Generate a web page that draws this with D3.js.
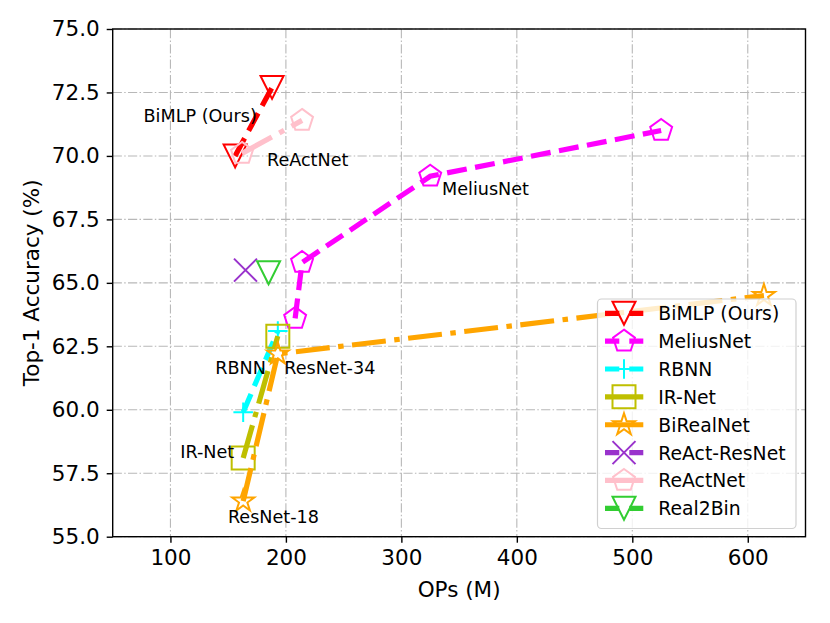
<!DOCTYPE html>
<html><head><meta charset="utf-8">
<script src="https://cdn.jsdelivr.net/npm/d3@7"></script>
<style>
html,body{margin:0;padding:0;background:#fff;}
svg{display:block;font-family:"DejaVu Sans",sans-serif;}
</style></head>
<body><svg id="chart" width="830" height="623"></svg>
<script>
// ---- data ----
const seriesNames = ["BiMLP (Ours)","MeliusNet","RBNN","IR-Net","BiRealNet","ReAct-ResNet","ReActNet","Real2Bin"];
const bimlpOps = [156, 188];      const bimlpAcc = [70.0, 72.7];
const meliusOps = [208, 214, 325, 525]; const meliusAcc = [63.6, 65.8, 69.2, 71.0];
const rbnnOps = [163, 193];       const rbnnAcc = [59.9, 63.1];
const irnetOps = [163, 193];      const irnetAcc = [58.1, 62.9];
const birealOps = [163, 193, 614]; const birealAcc = [56.4, 62.2, 64.5];
const reactResOps = [165];        const reactResAcc = [65.5];
const reactOps = [162, 214];      const reactAcc = [70.1, 71.4];
const real2binOps = [185];        const real2binAcc = [65.4];
const xTicks = [100, 200, 300, 400, 500, 600];
const yTicks = [55.0, 57.5, 60.0, 62.5, 65.0, 67.5, 70.0, 72.5, 75.0];
const annotTexts = ["BiMLP (Ours)","ReActNet","MeliusNet","RBNN","ResNet-34","IR-Net","ResNet-18"];
const annotOps = [76.7, 183.6, 335.2, 138.8, 198.6, 108.5, 149.8];
const annotAcc = [71.35, 69.6, 68.46, 61.42, 61.42, 58.1, 55.54];

// ---- styles ----
const styles = [
  {color:"#ff0000", dash:"--", marker:"v"},
  {color:"#ff00ff", dash:"--", marker:"p"},
  {color:"#00ffff", dash:"--", marker:"+"},
  {color:"#bfbf00", dash:"-.", marker:"s"},
  {color:"#ffa500", dash:"-.", marker:"*"},
  {color:"#9932cc", dash:"--", marker:"x"},
  {color:"#ffc0cb", dash:"-.", marker:"p"},
  {color:"#32cd32", dash:"--", marker:"v"}
];
const seriesOps = [bimlpOps, meliusOps, rbnnOps, irnetOps, birealOps, reactResOps, reactOps, real2binOps];
const seriesAcc = [bimlpAcc, meliusAcc, rbnnAcc, irnetAcc, birealAcc, reactResAcc, reactAcc, real2binAcc];

const L = 112.7, R = 805.5, T = 29.0, B = 536.7;
const x = d3.scaleLinear().domain([50, 650]).range([L, R]);
const y = d3.scaleLinear().domain([55, 75]).range([B, T]);
const svg = d3.select("#chart");

const dashArr = {"--":"20,8.5", "-.":"34,8.5,5.5,8.5"};
const MS = 23;
function markerPath(m, s) {
  const r = s / 2;
  if (m === "v") return `M0,${r}L${-r},${-r}L${r},${-r}Z`;
  if (m === "p") {
    let p = "";
    for (let i = 0; i < 5; i++) { const a = -Math.PI/2 + i*2*Math.PI/5; p += (i?"L":"M") + (r*Math.cos(a)).toFixed(2) + "," + (r*Math.sin(a)).toFixed(2); }
    return p + "Z";
  }
  if (m === "*") {
    let p = ""; const ri = r * 0.381966;
    for (let i = 0; i < 10; i++) { const a = -Math.PI/2 + i*Math.PI/5; const rr = i%2 ? ri : r; p += (i?"L":"M") + (rr*Math.cos(a)).toFixed(2) + "," + (rr*Math.sin(a)).toFixed(2); }
    return p + "Z";
  }
  if (m === "s") return `M${-r},${-r}H${r}V${r}H${-r}Z`;
  if (m === "+") { const q = r*0.85; return `M${-q},0H${q}M0,${-q}V${q}`; }
  if (m === "x") return `M${-r},${-r}L${r},${r}M${-r},${r}L${r},${-r}`;
}

// grid
const grid = svg.append("g");
grid.selectAll("line.gx").data(xTicks).join("line")
  .attr("x1", d=>x(d)).attr("x2", d=>x(d)).attr("y1", T).attr("y2", B)
  .attr("stroke", "#b8b8b8").attr("stroke-width", 1.1).attr("stroke-dasharray", "9.2,2.3,1.5,2.3");
grid.selectAll("line.gy").data(yTicks).join("line")
  .attr("y1", d=>y(d)).attr("y2", d=>y(d)).attr("x1", L).attr("x2", R)
  .attr("stroke", "#b8b8b8").attr("stroke-width", 1.1).attr("stroke-dasharray", "9.2,2.3,1.5,2.3");

// series
const lineGen = d3.line().x(d=>x(d[0])).y(d=>y(d[1]));
seriesNames.forEach((name, i) => {
  const st = styles[i];
  const pts = seriesOps[i].map((v, j) => [v, seriesAcc[i][j]]);
  const g = svg.append("g");
  if (pts.length > 1) {
    g.append("path").attr("d", lineGen(pts)).attr("fill", "none")
      .attr("stroke", st.color).attr("stroke-width", 5.2)
      .attr("stroke-dasharray", dashArr[st.dash]);
  }
  g.selectAll("path.m").data(pts).join("path").attr("class","m")
    .attr("d", markerPath(st.marker, MS))
    .attr("transform", d => `translate(${x(d[0])},${y(d[1])})`)
    .attr("fill", "none").attr("stroke", st.color).attr("stroke-width", 2)
    .attr("stroke-linejoin", "miter");
});

// annotations
svg.append("g").selectAll("text").data(annotTexts).join("text")
  .attr("x", (d,i)=>x(annotOps[i])).attr("y", (d,i)=>y(annotAcc[i]))
  .attr("font-size", 17.6).attr("fill", "#000").text(d=>d);

// axes
const xAxis = d3.axisBottom(x).tickValues(xTicks).tickSize(6).tickPadding(7).tickFormat(d3.format("d"));
const yAxis = d3.axisLeft(y).tickValues(yTicks).tickSize(6).tickPadding(7).tickFormat(d3.format(".1f"));
const gx = svg.append("g").attr("transform", `translate(0,${B})`).call(xAxis);
const gy = svg.append("g").attr("transform", `translate(${L},0)`).call(yAxis);
[gx, gy].forEach(g => {
  g.select(".domain").remove();
  g.selectAll(".tick line").attr("stroke", "#000").attr("stroke-width", 1.4);
  g.selectAll(".tick text").attr("font-size", 21.5).attr("font-family", "DejaVu Sans").attr("fill", "#000");
});
svg.append("rect").attr("x", L).attr("y", T).attr("width", R-L).attr("height", B-T)
  .attr("fill", "none").attr("stroke", "#000").attr("stroke-width", 1.4);

svg.append("text").attr("x", (L+R)/2).attr("y", 597).attr("text-anchor", "middle")
  .attr("font-size", 21.5).text("OPs (M)");
svg.append("text").attr("transform", `translate(39,${(T+B)/2}) rotate(-90)`).attr("text-anchor", "middle")
  .attr("font-size", 21.5).text("Top-1 Accuracy (%)");

// legend
const lg = svg.append("g");
lg.append("rect").attr("x", 597.5).attr("y", 299).attr("width", 198.5).attr("height", 229.5)
  .attr("rx", 4).attr("fill", "#fff").attr("fill-opacity", 0.8).attr("stroke", "#d0d0d0").attr("stroke-width", 1.2);
const rowY = d3.scaleLinear().domain([0, 7]).range([313.3, 508.3]);
seriesNames.forEach((name, i) => {
  const st = styles[i];
  const cy = rowY(i);
  lg.append("line").attr("x1", 605).attr("x2", 643.3).attr("y1", cy).attr("y2", cy)
    .attr("stroke", st.color).attr("stroke-width", 5.2)
    .attr("stroke-dasharray", st.dash === "--" ? "14.3,10" : null);
  lg.append("path").attr("d", markerPath(st.marker, MS))
    .attr("transform", `translate(624,${cy})`).attr("fill", "none")
    .attr("stroke", st.color).attr("stroke-width", 2);
  lg.append("text").attr("x", 658.3).attr("y", cy + 7).attr("font-size", 18.8).text(name);
});
</script></body></html>
